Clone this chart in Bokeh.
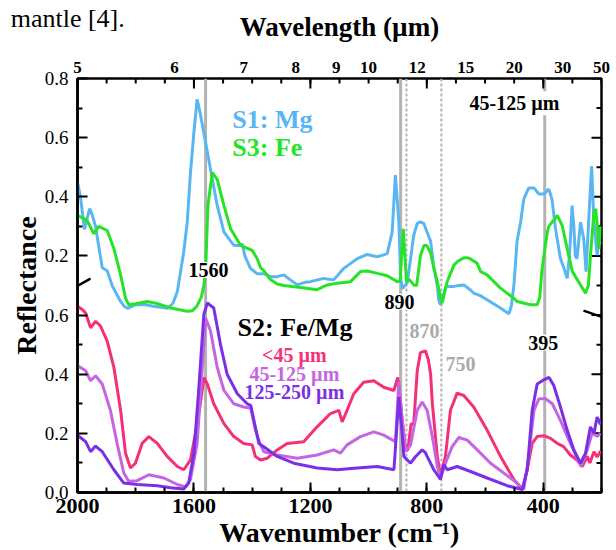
from bokeh.plotting import figure
from bokeh.models import LinearAxis, FixedTicker, Range1d, Span, Label, Arrow
from bokeh.embed import file_html
from bokeh.resources import INLINE

# ---------------- data (wavenumber in cm-1, reflectance) ----------------
s1_wn = [2000, 1990, 1976, 1966, 1958, 1950, 1938, 1925, 1915, 1898, 1881, 1865, 1852, 1840, 1828, 1800, 1770,
         1740, 1703, 1690, 1672, 1657, 1646, 1635, 1623, 1612, 1600, 1589, 1578, 1566, 1543, 1520, 1497, 1474,
         1463, 1445, 1434, 1425, 1406, 1383, 1360, 1337, 1314, 1291, 1270, 1245, 1222, 1200, 1154, 1120, 1085,
         1039, 1005, 970, 936, 919, 908, 896, 890, 884, 867, 856, 845, 833, 822, 810, 799, 787, 776, 764, 759,
         753, 745, 735, 720, 707, 690, 673, 650, 639, 615, 593, 547, 518, 510, 501, 490, 478, 467, 450, 432, 415,
         398, 381, 370, 358, 341, 329, 318, 310, 301, 295, 290, 284, 272, 261, 253, 245, 234, 226, 215, 208, 203]
s1_r = [0.45, 0.40, 0.29, 0.33, 0.36, 0.34, 0.30, 0.22, 0.16, 0.15, 0.10, 0.07, 0.046, 0.03, 0.023, 0.035, 0.036,
        0.03, 0.025, 0.023, 0.04, 0.08, 0.147, 0.214, 0.314, 0.48, 0.62, 0.73, 0.68, 0.616, 0.493, 0.37, 0.281, 0.25,
        0.236, 0.235, 0.24, 0.20, 0.158, 0.14, 0.14, 0.13, 0.13, 0.136, 0.12, 0.102, 0.11, 0.113, 0.124, 0.119, 0.158,
        0.191, 0.205, 0.197, 0.208, 0.281, 0.473, 0.314, 0.124, 0.09, 0.11, 0.19, 0.27, 0.31, 0.315, 0.309, 0.28,
        0.25, 0.16, 0.10, 0.05, 0.035, 0.06, 0.095, 0.097, 0.097, 0.10, 0.102, 0.085, 0.074, 0.065, 0.052, 0.024,
        0.004, 0.03, 0.10, 0.25, 0.314, 0.392, 0.43, 0.43, 0.409, 0.409, 0.426, 0.392, 0.292, 0.191, 0.158, 0.124,
        0.20, 0.37, 0.30, 0.20, 0.191, 0.314, 0.258, 0.147, 0.30, 0.504, 0.314, 0.203, 0.25, 0.24]

s3_wn = [2000, 1967, 1944, 1927, 1898, 1875, 1852, 1835, 1824, 1800, 1761, 1730, 1680, 1623, 1605, 1590, 1575,
         1566, 1560, 1552, 1537, 1520, 1497, 1474, 1440, 1400, 1383, 1371, 1360, 1337, 1314, 1291, 1234, 1177,
         1142, 1108, 1062, 1028, 1005, 970, 936, 902, 892, 881, 870, 860, 845, 835, 822, 810, 800, 787, 776, 764,
         753, 747, 736, 730, 707, 696, 673, 661, 650, 627, 615, 593, 581, 547, 501, 490, 444, 421, 412, 405, 398,
         386, 381, 352, 335, 318, 300, 272, 255, 245, 238, 226, 220, 214, 209, 203]
s3_r = [0.337, 0.32, 0.275, 0.30, 0.286, 0.225, 0.136, 0.057, 0.035, 0.038, 0.046, 0.04, 0.024, 0.013, 0.015, 0.03,
        0.06, 0.10, 0.15, 0.37, 0.482, 0.459, 0.37, 0.292, 0.236, 0.219, 0.191, 0.16, 0.15, 0.12, 0.105, 0.10, 0.093,
        0.086, 0.102, 0.108, 0.113, 0.147, 0.149, 0.141, 0.133, 0.113, 0.115, 0.292, 0.113, 0.12, 0.102, 0.10, 0.20,
        0.235, 0.235, 0.21, 0.16, 0.113, 0.06, 0.041, 0.09, 0.113, 0.169, 0.18, 0.194, 0.194, 0.19, 0.175, 0.147,
        0.136, 0.124, 0.091, 0.057, 0.046, 0.035, 0.035, 0.06, 0.147, 0.20, 0.281, 0.30, 0.337, 0.303, 0.225, 0.147,
        0.102, 0.074, 0.10, 0.20, 0.348, 0.359, 0.30, 0.225, 0.30]

s2_lt45_wn = [2000, 1985, 1972, 1955, 1938, 1921, 1898, 1875, 1852, 1835, 1818, 1801, 1778, 1755, 1726, 1692, 1657,
              1635, 1612, 1595, 1578, 1566, 1554, 1532, 1497, 1463, 1429, 1400, 1389, 1371, 1348, 1314, 1280, 1223,
              1177, 1131, 1102, 1091, 1074, 1051, 1017, 982, 948, 913, 900, 890, 881, 873, 865, 854, 845, 833, 822,
              805, 795, 787, 781, 764, 753, 736, 719, 696, 673, 639, 593, 547, 501, 472, 455, 438, 421, 398, 375,
              352, 330, 307, 284, 266, 249, 240, 226, 215, 203]
s2_lt45_r = [0.63, 0.62, 0.607, 0.557, 0.579, 0.563, 0.512, 0.423, 0.278, 0.133, 0.083, 0.099, 0.166, 0.189, 0.166,
             0.122, 0.088, 0.077, 0.11, 0.20, 0.30, 0.389, 0.367, 0.30, 0.233, 0.189, 0.166, 0.161, 0.122, 0.11, 0.116,
             0.144, 0.166, 0.172, 0.222, 0.267, 0.278, 0.239, 0.278, 0.334, 0.373, 0.378, 0.356, 0.345, 0.389, 0.30,
             0.211, 0.144, 0.144, 0.233, 0.23, 0.412, 0.473, 0.479, 0.45, 0.40, 0.30, 0.122, 0.055, 0.122, 0.278,
             0.336, 0.328, 0.289, 0.211, 0.122, 0.044, 0.01, 0.077, 0.166, 0.189, 0.192, 0.183, 0.166, 0.155, 0.127,
             0.11, 0.088, 0.122, 0.10, 0.138, 0.12, 0.14]

s2_45_125_wn = [2000, 1972, 1955, 1938, 1915, 1887, 1864, 1841, 1824, 1795, 1755, 1703, 1657, 1629, 1612, 1589, 1572,
                1560, 1543, 1520, 1497, 1463, 1429, 1405, 1389, 1371, 1360, 1314, 1245, 1177, 1120, 1097, 1074, 1028,
                982, 948, 908, 896, 885, 873, 856, 833, 816, 799, 781, 764, 753, 736, 713, 690, 661, 627, 581, 536,
                490, 467, 450, 432, 415, 392, 369, 341, 312, 289, 270, 249, 232, 215, 203]
s2_45_125_r = [0.429, 0.412, 0.378, 0.395, 0.367, 0.278, 0.166, 0.066, 0.038, 0.04, 0.06, 0.049, 0.027, 0.019, 0.044,
               0.166, 0.412, 0.59, 0.546, 0.423, 0.345, 0.30, 0.289, 0.285, 0.211, 0.16, 0.138, 0.127, 0.116, 0.127,
               0.144, 0.133, 0.161, 0.189, 0.205, 0.194, 0.172, 0.373, 0.25, 0.138, 0.16, 0.278, 0.306, 0.278, 0.189,
               0.088, 0.049, 0.099, 0.155, 0.186, 0.177, 0.144, 0.099, 0.066, 0.032, 0.01, 0.122, 0.278, 0.317, 0.317,
               0.30, 0.244, 0.177, 0.127, 0.088, 0.144, 0.20, 0.19, 0.20]

s2_125_250_wn = [2000, 1972, 1955, 1938, 1915, 1875, 1841, 1795, 1726, 1680, 1635, 1618, 1600, 1583, 1566, 1554, 1532,
                 1509, 1486, 1451, 1417, 1405, 1394, 1377, 1360, 1314, 1257, 1177, 1108, 1039, 970, 913, 896, 885,
                 879, 856, 840, 816, 805, 799, 776, 753, 742, 730, 696, 650, 593, 524, 472, 455, 438, 421, 398, 380,
                 364, 341, 318, 295, 272, 255, 238, 226, 215, 203]
s2_125_250_r = [0.194, 0.172, 0.138, 0.157, 0.138, 0.077, 0.032, 0.027, 0.023, 0.016, 0.012, 0.032, 0.133, 0.356,
                0.602, 0.641, 0.624, 0.501, 0.40, 0.334, 0.30, 0.295, 0.244, 0.166, 0.155, 0.122, 0.099, 0.083, 0.077,
                0.083, 0.088, 0.077, 0.323, 0.20, 0.122, 0.099, 0.12, 0.144, 0.135, 0.122, 0.077, 0.044, 0.094, 0.077,
                0.088, 0.071, 0.049, 0.023, 0.01, 0.077, 0.278, 0.367, 0.381, 0.389, 0.362, 0.289, 0.211, 0.144,
                0.099, 0.133, 0.222, 0.20, 0.255, 0.23]

solid_lines = [1560, 890, 395]
dashed_lines = [870, 750]
wavelength_ticks = [5, 6, 7, 8, 9, 10, 12, 15, 20, 30, 50]
wn_major = [2000, 1600, 1200, 800, 400]
wn_minor = list(range(200, 2001, 100))
bottom_labels = [0.0, 0.2, 0.4, 0.6]
top_labels = [0.2, 0.4, 0.6, 0.8]

TOP_OFFSET = 0.6  # upper panel (S1, S3) is shifted up by this amount on the shared axis

C_MG = "#5ab6f2"
C_FE = "#26e326"
C_LT45 = "#f5307a"
C_45 = "#c466e2"
C_125 = "#7a30e6"
C_GRAY = "#b3b3b3"
SERIF = "Liberation Serif"

X0, X1, Y0, Y1 = 2000, 200, 0.0, 1.4
FRAME_L, FRAME_T, FRAME_W, FRAME_H = 77, 75, 524, 418
WIDTH, HEIGHT = 610, 550
UX = (X0 - X1) / FRAME_W   # data units per pixel (x)
UY = (Y1 - Y0) / FRAME_H   # data units per pixel (y)

p = figure(width=WIDTH, height=HEIGHT, x_range=Range1d(X0, X1), y_range=Range1d(Y0, Y1),
           output_backend="svg", toolbar_location=None,
           x_axis_location=None, y_axis_location=None,
           min_border_left=FRAME_L, min_border_top=FRAME_T,
           min_border_right=WIDTH - FRAME_L - FRAME_W, min_border_bottom=HEIGHT - FRAME_T - FRAME_H)
p.xgrid.visible = False
p.ygrid.visible = False
p.outline_line_color = "black"
p.outline_line_width = 2.5
p.background_fill_color = "white"
p.border_fill_color = "white"


def style_axis(ax, label_size, bold=False):
    ax.axis_line_width = 2.5
    ax.axis_line_color = "black"
    ax.major_tick_line_width = 2
    ax.minor_tick_line_width = 2
    ax.major_tick_out = 0
    ax.minor_tick_out = 0
    ax.major_tick_in = 10
    ax.minor_tick_in = 5
    ax.major_label_text_font = SERIF
    ax.major_label_text_font_size = label_size
    ax.major_label_text_color = "black"
    ax.major_label_text_font_style = "bold" if bold else "normal"


def style_title(ax, text, size, standoff):
    ax.axis_label = text
    ax.axis_label_text_font = SERIF
    ax.axis_label_text_font_style = "bold"
    ax.axis_label_text_font_size = size
    ax.axis_label_text_color = "black"
    ax.axis_label_standoff = standoff


# bottom axis (wavenumber)
xb = LinearAxis(ticker=FixedTicker(ticks=wn_major, minor_ticks=wn_minor))
style_axis(xb, "22px", bold=True)
xb.major_label_standoff = 6
style_title(xb, "Wavenumber (cm⁻¹)", "28px", 1)
p.add_layout(xb, "below")

# top axis: wavelength labels
wl_pos = [10000.0 / w for w in wavelength_ticks]
xw = LinearAxis(ticker=FixedTicker(ticks=wl_pos, minor_ticks=[]),
                major_label_overrides={pos: str(w) for pos, w in zip(wl_pos, wavelength_ticks)})
style_axis(xw, "17px", bold=True)
xw.axis_line_color = None
xw.major_tick_in = 0
xw.minor_tick_in = 0
xw.major_label_standoff = 6
style_title(xw, "Wavelength (µm)", "27px", 17)
p.add_layout(xw, "above")

# caption fragment of the surrounding page ("mantle [4].") at the top-left, drawn as a lone
# tick label of an invisible outer axis so that it can sit outside the plotting frame
CAPTION = "mantle [4]."
xc = LinearAxis(ticker=FixedTicker(ticks=[X0], minor_ticks=[]),
                major_label_overrides={X0: CAPTION + "\u00a0" * 3})
style_axis(xc, "26px")
xc.axis_line_color = None
xc.major_tick_in = 0
xc.minor_tick_in = 0
xc.major_label_standoff = -24
p.add_layout(xc, "above")

# left axis with broken-scale labels
ymaj = [round(v, 6) for v in bottom_labels] + [round(v + TOP_OFFSET, 6) for v in top_labels]
ylab = [f"{v:.1f}" for v in bottom_labels] + [f"{v:.1f}" for v in top_labels]
yminor = [0.1, 0.3, 0.5, 0.9, 1.1, 1.3]
yl = LinearAxis(ticker=FixedTicker(ticks=ymaj, minor_ticks=yminor),
                major_label_overrides=dict(zip(ymaj, ylab)))
style_axis(yl, "19px")
yl.major_label_standoff = 9
style_title(yl, "Reflectance", "28px", 0)
p.add_layout(yl, "left")

# inward ticks on the top and right frame edges (no labels there)
p.segment(x0=wn_major, y0=[Y1] * len(wn_major), x1=wn_major, y1=[Y1 - 10 * UY] * len(wn_major),
          line_color="black", line_width=2)
p.segment(x0=wn_minor, y0=[Y1] * len(wn_minor), x1=wn_minor, y1=[Y1 - 5 * UY] * len(wn_minor),
          line_color="black", line_width=2)
r_minor = yminor + [0.7]
p.segment(x0=[X1] * len(ymaj), y0=ymaj, x1=[X1 + 10 * UX] * len(ymaj), y1=ymaj, line_color="black", line_width=2)
p.segment(x0=[X1] * len(r_minor), y0=r_minor, x1=[X1 + 5 * UX] * len(r_minor), y1=r_minor,
          line_color="black", line_width=2)

# reference lines
for loc in solid_lines:
    p.add_layout(Span(location=loc, dimension="height", line_color=C_GRAY, line_width=3, level="underlay"))
for loc in dashed_lines:
    p.add_layout(Span(location=loc, dimension="height", line_color=C_GRAY, line_width=2,
                      line_dash="3 2", level="underlay"))

# curves
p.line(s1_wn, [v + TOP_OFFSET for v in s1_r], line_color=C_MG, line_width=3)
p.line(s3_wn, [v + TOP_OFFSET for v in s3_r], line_color=C_FE, line_width=3)
p.line(s2_lt45_wn, s2_lt45_r, line_color=C_LT45, line_width=3)
p.line(s2_45_125_wn, s2_45_125_r, line_color=C_45, line_width=3)
p.line(s2_125_250_wn, s2_125_250_r, line_color=C_125, line_width=3)


def add_text(x, y, text, color="black", size="20px", align="left", bg=None, bold=True):
    lab = Label(x=x, y=y, text=text, text_color=color, text_font=SERIF,
                text_font_style="bold" if bold else "normal",
                text_font_size=size, text_align=align, text_baseline="middle")
    if bg:
        lab.background_fill_color = bg
        lab.padding = 1
    p.add_layout(lab)
    return lab


add_text(1468, 1.263, "S1: Mg", C_MG, "26px")
add_text(1468, 1.167, "S3: Fe", C_FE, "26px")
add_text(1450, 0.558, "S2: Fe/Mg", "black", "26px")
add_text(1255, 0.466, "<45 µm", C_LT45, "20px", "center")
add_text(1255, 0.400, "45-125 µm", C_45, "20px", "center")
add_text(1255, 0.340, "125-250 µm", C_125, "20px", "center")
add_text(499, 1.316, "45-125 µm", "black", "20px", "center", bg="white")
add_text(1550, 0.752, "1560", "black", "20px", "center", bg="white")
add_text(894, 0.645, "890", "black", "20px", "center", bg="white")
add_text(400, 0.507, "395", "black", "20px", "center", bg="white")
add_text(863, 0.546, "870", "#aaaaaa", "20px", "left", bg="white")
add_text(736, 0.434, "750", "#aaaaaa", "20px", "left")

# axis-break marks
p.add_layout(Arrow(end=None, x_start=X0 + 10 * UX, y_start=0.680, x_end=X0 - 13 * UX, y_end=0.723,
                   line_width=2.5, line_color="black", level="overlay"))
p.add_layout(Arrow(end=None, x_start=X1 + 18 * UX, y_start=0.615, x_end=X1 - 8 * UX, y_end=0.585,
                   line_width=2.5, line_color="black", level="overlay"))

open("out.html", "w").write(file_html(p, INLINE))
